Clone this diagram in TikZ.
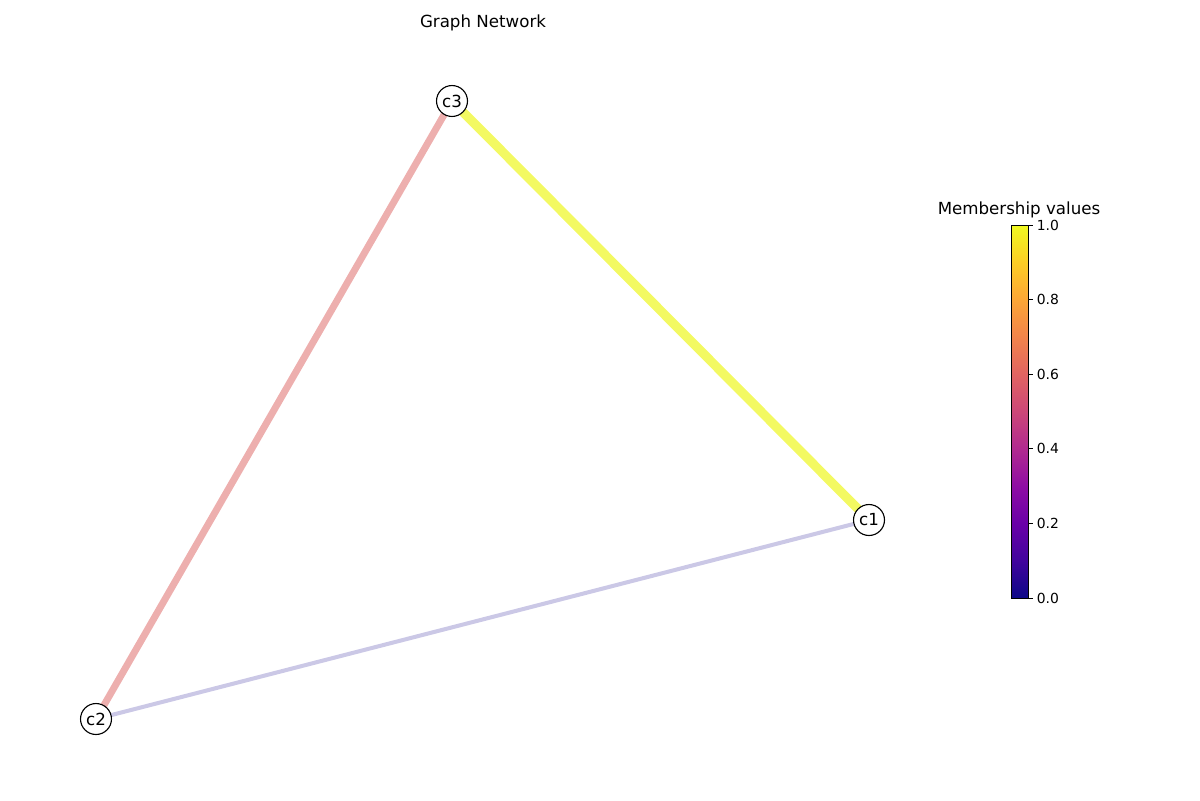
\documentclass[tikz,border=0pt]{standalone}
\usepackage{fontspec}
\setmainfont{DejaVu Sans}
\usetikzlibrary{backgrounds}
\definecolor{p0}{HTML}{0D0887}
\definecolor{p1}{HTML}{41049D}
\definecolor{p2}{HTML}{6A00A8}
\definecolor{p3}{HTML}{8F0DA4}
\definecolor{p4}{HTML}{B12A90}
\definecolor{p5}{HTML}{CC4778}
\definecolor{p6}{HTML}{E16462}
\definecolor{p7}{HTML}{F2844B}
\definecolor{p8}{HTML}{FCA636}
\definecolor{p9}{HTML}{FCCE25}
\definecolor{p10}{HTML}{F0F921}
\definecolor{edgeyellow}{HTML}{F3F962}
\definecolor{edgepink}{HTML}{EDAFAE}
\definecolor{edgelav}{HTML}{CBC8E6}
\pgfdeclareverticalshading{plasma}{100bp}{color(0bp)=(p0); color(25bp)=(p0); color(30bp)=(p1); color(35bp)=(p2); color(40bp)=(p3); color(45bp)=(p4); color(50bp)=(p5); color(55bp)=(p6); color(60bp)=(p7); color(65bp)=(p8); color(70bp)=(p9); color(75bp)=(p10); color(100bp)=(p10)}
\tikzset{
  gnode/.style={circle, draw=black, line width=0.8pt, fill=white, minimum size=22.3pt, inner sep=0pt, font=\fontsize{12}{14}\selectfont},
  edgebase/.style={line cap=butt},
  ticklabel/.style={anchor=west, inner sep=0pt, font=\fontsize{10}{12}\selectfont},
  titletext/.style={inner sep=0pt, font=\fontsize{12}{14}\selectfont}
}
\begin{document}
\begin{tikzpicture}[x=0.72pt, y=-0.72pt]
\useasboundingbox (0,0) rectangle (1200,800);
% nodes
\node[gnode] (c3) at (452,101) {c3};
\node[gnode] (c1) at (869,520) {c1};
\node[gnode] (c2) at (96,719) {c2};
% edges
\begin{scope}[on background layer]
  \draw[edgebase, edgeyellow, line width=6.6pt] (c3.center) -- (c1.center);
  \draw[edgebase, edgepink, line width=5pt] (c3.center) -- (c2.center);
  \draw[edgebase, edgelav, line width=2.9pt] (c2.center) -- (c1.center);
\end{scope}
% title
\node[titletext] (title) at (483,23) {Graph Network};
% colorbar
\coordinate (cbll) at (1011,598);
\coordinate (cbur) at (1028,225);
\shade[shading=plasma] (cbll) rectangle (cbur);
\draw[line width=0.6pt] (cbll) rectangle (cbur);
\node[titletext] (cbtitle) at (1019,210) {Membership values};
\foreach \v/\lab [count=\i] in {0/0.0, 0.2/0.2, 0.4/0.4, 0.6/0.6, 0.8/0.8, 1/1.0} {
  \coordinate (tick\i) at (1028, 598-373*\v);
  \draw[line width=0.6pt] (tick\i) -- ++(5,0) node[ticklabel, xshift=2.5pt] (tl\i) {\lab};
}
\end{tikzpicture}
\end{document}
